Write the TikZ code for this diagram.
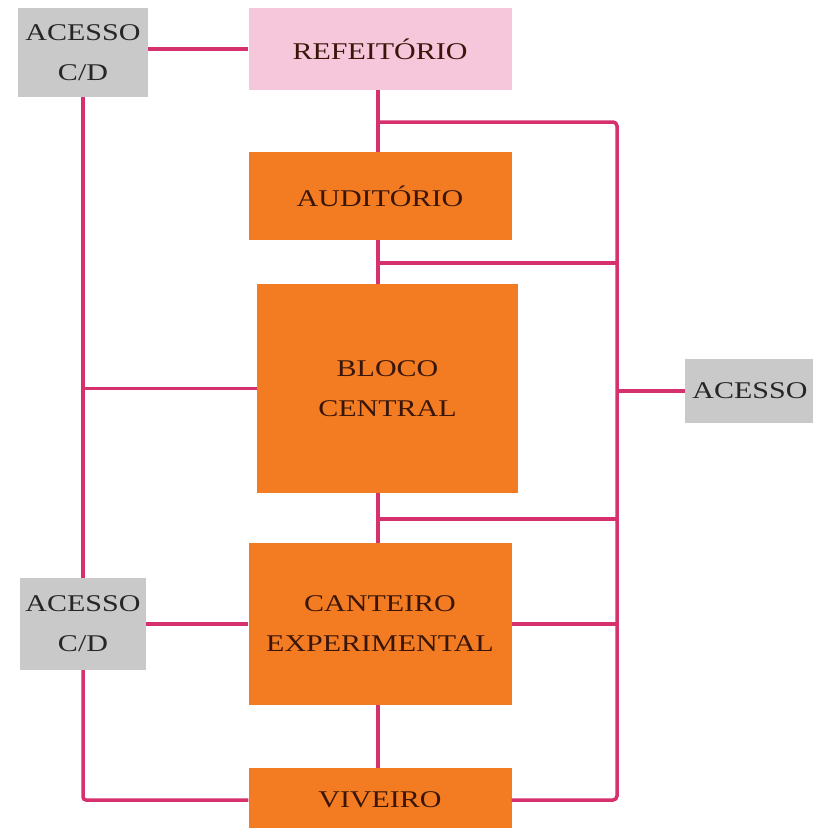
\documentclass[tikz,border=0pt]{standalone}
\usepackage{fontspec}
\setmainfont{Liberation Serif}[FakeStretch=1.25]
\usetikzlibrary{calc}

\definecolor{roomorange}{RGB}{243,124,34}
\definecolor{roompink}{RGB}{246,198,218}
\definecolor{accessgray}{RGB}{201,201,201}
\definecolor{linkpink}{RGB}{214,48,110}
\definecolor{roomtext}{RGB}{58,22,10}

\begin{document}
\begin{tikzpicture}[x=1pt, y=-1pt,
    room/.style={rectangle, inner sep=0pt, align=center, font=\fontsize{24}{40}\selectfont},
    orangebox/.style={room, fill=roomorange, text=roomtext},
    pinkbox/.style={room, fill=roompink, text=roomtext},
    graybox/.style={room, fill=accessgray, text=black!85},
    link/.style={draw=linkpink, line width=3.5pt}]
\useasboundingbox (0,0) rectangle (813,828);

% blocks
\node[graybox, minimum width=130pt, minimum height=89pt] (acessoA) at (83,52.5) {ACESSO\\C/D};
\node[pinkbox, minimum width=263pt, minimum height=82pt] (refeitorio) at (380,49) {REFEITÓRIO};
\node[orangebox, minimum width=263pt, minimum height=88pt] (auditorio) at (380,196) {AUDITÓRIO};
\node[orangebox, minimum width=261pt, minimum height=209pt] (bloco) at (387.5,388.5) {BLOCO\\CENTRAL};
\node[orangebox, minimum width=263pt, minimum height=162pt] (canteiro) at (380,624) {CANTEIRO\\EXPERIMENTAL};
\node[orangebox, minimum width=263pt, minimum height=64pt] (viveiro) at (380,800) {VIVEIRO};
\node[graybox, minimum width=126pt, minimum height=92pt] (acessoB) at (83,624) {ACESSO\\C/D};
\node[graybox, minimum width=130pt, minimum height=64pt] (acessoR) at (750,391) {ACESSO};

\coordinate (spine) at (378,0);
\coordinate (busTop) at (617,122);
\coordinate (tapA) at (617,263);
\coordinate (tapB) at (617,519);

% central spine
\draw[link] (refeitorio.south -| spine) -- (auditorio.north -| spine);
\draw[link] (auditorio.south -| spine) -- (bloco.north -| spine);
\draw[link] (bloco.south -| spine) -- (canteiro.north -| spine);
\draw[link] (canteiro.south -| spine) -- (viveiro.north -| spine);

% left side
\draw[link] (acessoA.east |- refeitorio.west) -- (refeitorio.west);
\draw[link] (acessoA.south) -- (acessoB.north);
\draw[link] (bloco.west -| acessoA.south) -- (bloco.west);
\draw[link] (acessoB.east) -- (canteiro.west);
\draw[link, rounded corners=3pt] (acessoB.south) |- (viveiro.west);

% right side
\draw[link, rounded corners=4pt] (busTop -| spine) -- (busTop) -- (busTop |- viveiro.east) -- (viveiro.east);
\draw[link] (tapA -| spine) -- (tapA);
\draw[link] (tapB -| spine) -- (tapB);
\draw[link] (canteiro.east) -- (canteiro.east -| busTop);
\draw[link] (acessoR.west -| busTop) -- (acessoR.west);
\end{tikzpicture}
\end{document}
